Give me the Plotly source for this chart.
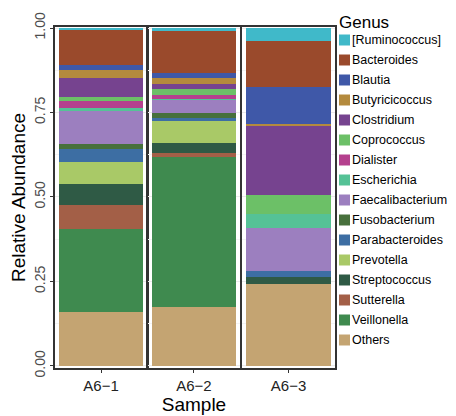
import plotly.graph_objects as go

samples = ["A6−1", "A6−2", "A6−3"]

# genus order from bottom of stack to top
genera = ["Others", "Veillonella", "Sutterella", "Streptococcus", "Prevotella",
          "Parabacteroides", "Fusobacterium", "Faecalibacterium", "Escherichia",
          "Dialister", "Coprococcus", "Clostridium", "Butyricicoccus", "Blautia",
          "Bacteroides", "[Ruminococcus]"]

a6_1 = [0.160, 0.246, 0.071, 0.062, 0.065, 0.039, 0.015, 0.095, 0.009,
        0.021, 0.012, 0.056, 0.024, 0.017, 0.102, 0.006]
a6_2 = [0.175, 0.443, 0.013, 0.030, 0.065, 0.009, 0.015, 0.038, 0.003,
        0.010, 0.020, 0.013, 0.017, 0.015, 0.125, 0.009]
a6_3 = [0.243, 0.000, 0.000, 0.020, 0.000, 0.018, 0.000, 0.127, 0.042,
        0.000, 0.056, 0.207, 0.003, 0.108, 0.138, 0.038]
values = [a6_1, a6_2, a6_3]

colors = ["#c4a472", "#3f8a4f", "#a35f47", "#2f5a45", "#a9c967",
          "#3d6ea3", "#47703c", "#9c7fbf", "#55c296",
          "#b5408e", "#6cc067", "#76438f", "#b48a3d", "#3f58a8",
          "#9a4a2c", "#40b9c9"]

y_ticks = [0, 0.25, 0.5, 0.75, 1.0]
y_ticktext = ["0.00", "0.25", "0.50", "0.75", "1.00"]
legend_title = "Genus"

# ---- geometry (pixels) ----
W, H = 456, 416
ML, MT, PW, PH = 47, 19, 280, 341
domains = [[0.0, 0.3286], [0.332, 0.6607], [0.668, 1.0]]


def px_x(p):
    return (p - ML) / PW


def px_y(p):
    return (MT + PH - p) / PH


fig = go.Figure()
for gi, g in enumerate(genera):
    for si, s in enumerate(samples):
        fig.add_trace(go.Bar(
            x=[s], y=[values[si][gi]], name=g,
            marker=dict(color=colors[gi], line=dict(width=0)),
            width=0.91, showlegend=False,
            xaxis="x" if si == 0 else f"x{si+1}",
            yaxis="y" if si == 0 else f"y{si+1}",
        ))

font_family = "Liberation Sans, Arial, sans-serif"

# legend drawn as swatches + text, top entry = last genus in stack
shapes, annotations = [], []
sw_left, sw_size, first_cy, row_h = 331, 11, 32, 20
for i, gi in enumerate(reversed(range(len(genera)))):
    cy = first_cy + row_h * i
    shapes.append(dict(
        type="rect", xref="paper", yref="paper",
        x0=px_x(sw_left), x1=px_x(sw_left + sw_size),
        y0=px_y(cy + sw_size / 2), y1=px_y(cy - sw_size / 2),
        fillcolor=colors[gi], line=dict(width=0), layer="above",
    ))
    annotations.append(dict(
        text=genera[gi], xref="paper", yref="paper",
        x=px_x(sw_left + sw_size + 1), y=px_y(cy),
        xanchor="left", yanchor="middle", showarrow=False,
        font=dict(size=12.5, color="black", family=font_family),
        borderpad=0,
    ))
annotations.append(dict(
    text=legend_title, xref="paper", yref="paper",
    x=px_x(sw_left - 1), y=px_y(14), xanchor="left", yanchor="middle",
    showarrow=False, font=dict(size=17, color="black", family=font_family),
    borderpad=0,
))

layout = dict(
    barmode="stack",
    width=W, height=H,
    margin=dict(l=ML, r=W - ML - PW, t=MT, b=H - MT - PH, autoexpand=False),
    paper_bgcolor="white", plot_bgcolor="white",
    font=dict(family=font_family, color="black"),
    showlegend=False,
    shapes=shapes, annotations=annotations,
)
for si in range(3):
    xa = "xaxis" if si == 0 else f"xaxis{si+1}"
    ya = "yaxis" if si == 0 else f"yaxis{si+1}"
    layout[xa] = dict(
        domain=domains[si], anchor="y" if si == 0 else f"y{si+1}",
        type="category", range=[-0.5, 0.5],
        showline=True, mirror=True, linecolor="#333333", linewidth=1.6,
        ticks="outside", ticklen=3, tickcolor="#333333",
        tickfont=dict(size=15, color="#222222"),
        showgrid=False, zeroline=False,
    )
    layout[ya] = dict(
        anchor="x" if si == 0 else f"x{si+1}",
        range=[-0.006, 1.003],
        tickvals=y_ticks, ticktext=y_ticktext,
        showticklabels=(si == 0), tickangle=-90,
        ticks="outside" if si == 0 else "", ticklen=3, tickcolor="#333333",
        tickfont=dict(size=14, color="#4d4d4d"),
        showline=True, mirror=True, linecolor="#333333", linewidth=1.6,
        showgrid=True, gridcolor="#ebebeb", gridwidth=1,
        minor=dict(dtick=0.125, tick0=0.125, showgrid=True, gridcolor="#f4f4f4", ticks=""),
        zeroline=False,
    )
layout["yaxis"]["title"] = dict(text="Relative Abundance", font=dict(size=19, color="black"), standoff=2)
layout["xaxis2"]["title"] = dict(text="Sample", font=dict(size=19, color="black"), standoff=0)

fig.update_layout(**layout)
fig.write_html("out.html")
